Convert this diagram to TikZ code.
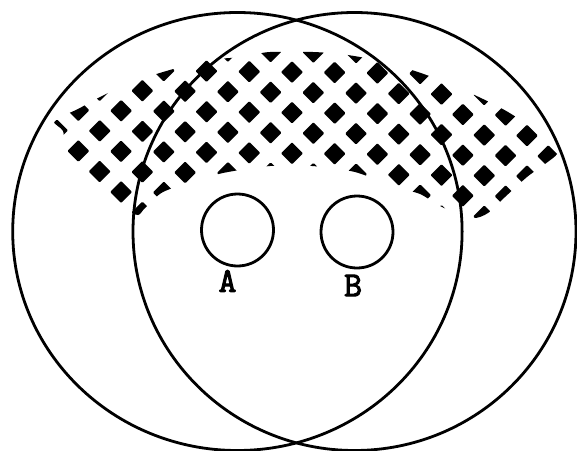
\documentclass[tikz,border=0pt]{standalone}
\usepackage{fontspec}
\newfontfamily\labfont{Latin Modern Mono}[FakeBold=3]
\usepackage{tikz}
\tikzset{ring/.style={draw,circle,line width=2.8pt,minimum size=72pt,inner sep=0pt},
  lbl/.style={font=\fontsize{35}{37}\selectfont\labfont,inner sep=0pt},
  rim/.style={line width=2.8pt}}

\begin{document}
\begin{tikzpicture}[x=1pt,y=-1pt,line join=round]
\useasboundingbox (0,0) rectangle (577,450);
% --- dotted band over the top of both discs
\begin{scope}
\clip plot[smooth cycle,tension=0.45] coordinates {(54,121) (78,109) (100,97) (130,83) (163,72) (207,60) (230,58) (252,55) (270,52) (313,52) (340,54) (360,57) (385,62) (418,72) (450,84) (483,99) (508,112) (532,128) (553,146) (557,154) (545,164) (527,177) (505,197) (488,213) (472,218) (442,207) (420,194) (395,187) (355,172) (312,166) (270,166) (228,172) (200,179) (163,192) (145,208) (138,215) (125,209) (104,193) (84,172) (66,151) (63,131)};
\foreach \r in {-1,...,7} \foreach \c in {0,...,12} {
  \pgfmathsetmacro{\col}{2*\c+1-mod(\r+2,2)}
  \pgfmathsetmacro{\px}{57+21.36*\col}
  \pgfmathsetmacro{\py}{69.5+20.3*\r+0.011*(\px-57)}
  \fill[rounded corners=1pt] (\px,\py) +(0,-11) -- +(11,0) -- +(0,11) -- +(-11,0) -- cycle;
}
\end{scope}
% --- the two large discs
\coordinate (cL) at (237.4,231.5); \coordinate (cR) at (354.5,231.5);
\draw[rim] (cL) ellipse [x radius=224.7pt,y radius=219pt];
\draw[rim] (cR) ellipse [x radius=221.5pt,y radius=219pt];
% --- small holes A and B
\node[ring] (holeA) at (237.5,230) {}; \node[lbl] (labA) at (227.5,281) {A};
\node[ring] (holeB) at (357,232) {}; \node[lbl] (labB) at (353,285.5) {B};
\end{tikzpicture}
\end{document}
